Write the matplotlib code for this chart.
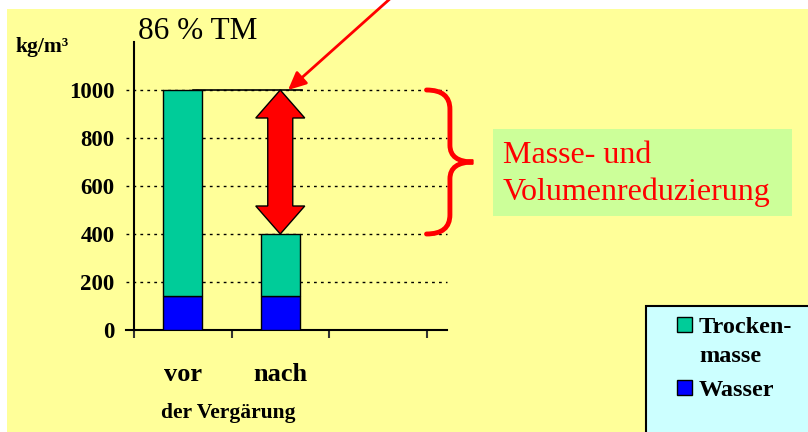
import numpy as np
import matplotlib
matplotlib.use("Agg")
import matplotlib.pyplot as plt
from matplotlib.patches import Rectangle, Polygon, PathPatch
from matplotlib.path import Path

plt.rcParams['font.family'] = ['Liberation Serif', 'DejaVu Serif']

# data (kg/m3)
categories = ['vor', 'nach']
wasser = [140, 140]
trockenmasse = [860, 260]
yticks = [0, 200, 400, 600, 800, 1000]
series_names = ['Trocken-\nmasse', 'Wasser']
colors = {'Trocken-\nmasse': '#00CC99', 'Wasser': '#0000FF'}

W, H = 808, 432
fig = plt.figure(figsize=(W / 100, H / 100), dpi=100, facecolor='white')


def fx(px):
    return px / W


def fy(py):
    return 1 - py / H


# yellow slide background
fig.patches.append(Rectangle((fx(7), 0), 1, fy(9), transform=fig.transFigure,
                             facecolor='#FFFF99', edgecolor='none', zorder=-10))

ax = fig.add_axes([fx(134), fy(330), (447 - 134) / W, 288 / H])
ax.set_facecolor('none')
x = np.arange(len(categories))
ax.set_xlim(-0.5, 2.71)
ax.set_ylim(0, 1200)

totals = [w + t for w, t in zip(wasser, trockenmasse)]
ax.bar(x, wasser, width=0.4, color=colors['Wasser'], edgecolor='black', lw=1, zorder=3)
ax.bar(x, trockenmasse, width=0.4, bottom=wasser, color=colors['Trocken-\nmasse'],
       edgecolor='black', lw=1, zorder=3)

# dotted gridlines running over the tick area
xgap = 8 / 97.5
ax.hlines(yticks[1:], -0.5 - xgap, 2.71, colors='black', linestyles=(0, (2, 3)),
          lw=1, clip_on=False, zorder=1)
ax.plot([-0.5 - xgap, -0.5], [0, 0], color='black', lw=1.5, clip_on=False)

for s in ['top', 'right']:
    ax.spines[s].set_visible(False)
ax.spines['left'].set_linewidth(1.5)
ax.spines['bottom'].set_linewidth(1.5)

ax.set_yticks(yticks)
ax.set_yticklabels([str(v) for v in yticks], fontsize=16.5, fontweight='bold')
ax.tick_params(axis='y', length=0, pad=14)

ax.set_xticks([-0.5, 0.5, 1.5, 2.5])
ax.set_xticklabels([])
ax.tick_params(axis='x', which='major', direction='out', length=6, width=1.5, color='#333333')
ax.set_xticks(x, minor=True)
ax.set_xticklabels(categories, minor=True, fontsize=19, fontweight='bold')
ax.tick_params(axis='x', which='minor', length=0, pad=24)

# line from top of "vor" to the arrow
ax.plot([0.1, 1.22], [totals[0], totals[0]], color='black', lw=1.2, zorder=4)

# fat red double arrow between the two totals
c = x[1]
top, bot = totals[0], totals[1]
hw, sw, hl = 24.5 / 97.5, 12.5 / 97.5, 28 / 0.24
verts = [(c, top), (c + hw, top - hl), (c + sw, top - hl), (c + sw, bot + hl),
         (c + hw, bot + hl), (c, bot), (c - hw, bot + hl), (c - sw, bot + hl),
         (c - sw, top - hl), (c - hw, top - hl)]
ax.add_patch(Polygon(verts, closed=True, facecolor='#FF0000', edgecolor='black',
                     lw=1, zorder=5))

# thin red arrow from above
ax.annotate('', xy=(1.08, top), xycoords='data', xytext=(fx(392), fy(-3)),
            textcoords='figure fraction',
            arrowprops=dict(arrowstyle='-|>,head_length=0.6,head_width=0.28',
                            mutation_scale=18, color='#FF0000', lw=2,
                            shrinkA=0, shrinkB=0),
            annotation_clip=False, zorder=6)

# curly brace
x0, xm, xt = 2.5, 2.74, 2.98
mid = (top + bot) / 2
bverts = [(x0, top), (xm, top), (xm, top - 80), (xm, mid + 70), (xm, mid), (xt, mid),
          (xm, mid), (xm, mid - 70), (xm, bot + 80), (xm, bot), (x0, bot)]
bcodes = [Path.MOVETO, Path.CURVE3, Path.CURVE3, Path.LINETO, Path.CURVE3, Path.CURVE3,
          Path.CURVE3, Path.CURVE3, Path.LINETO, Path.CURVE3, Path.CURVE3]
ax.add_patch(PathPatch(Path(bverts, bcodes), facecolor='none', edgecolor='#FF0000',
                       lw=3.5, clip_on=False, capstyle='round', zorder=6))

# texts
fig.text(fx(138), fy(39), '86 % TM', fontsize=22.5, ha='left', va='baseline')
fig.text(fx(16), fy(52), 'kg/m³', fontsize=15.5, fontweight='bold', ha='left', va='baseline')
fig.text(fx(228), fy(418), 'der Vergärung', fontsize=15.5, fontweight='bold',
         ha='center', va='baseline')

fig.patches.append(Rectangle((fx(493), fy(216)), (792 - 493) / W, (216 - 129) / H,
                             transform=fig.transFigure, facecolor='#CCFF99',
                             edgecolor='none', zorder=1))
fig.text(fx(503), fy(163), 'Masse- und', fontsize=23, color='#FF0000', va='baseline')
fig.text(fx(503), fy(200), 'Volumenreduzierung', fontsize=23, color='#FF0000', va='baseline')

# legend box
fig.patches.append(Rectangle((fx(646), fy(440)), (820 - 646) / W, (440 - 306) / H,
                             transform=fig.transFigure, facecolor='#CCFFFF',
                             edgecolor='black', lw=1.5, zorder=1))
sq_tops = [317, 380]
for name, ytop in zip(series_names, sq_tops):
    fig.patches.append(Rectangle((fx(677), fy(ytop + 15)), 15 / W, 15 / H,
                                 transform=fig.transFigure, facecolor=colors[name],
                                 edgecolor='black', lw=1, zorder=2))
    lines = name.split('\n')
    for i, line in enumerate(lines):
        fig.text(fx(699), fy(ytop + 16 + i * 29), line, fontsize=17.5,
                 fontweight='bold', va='baseline', zorder=3)

fig.savefig('out.png', dpi=100, facecolor=fig.get_facecolor())
